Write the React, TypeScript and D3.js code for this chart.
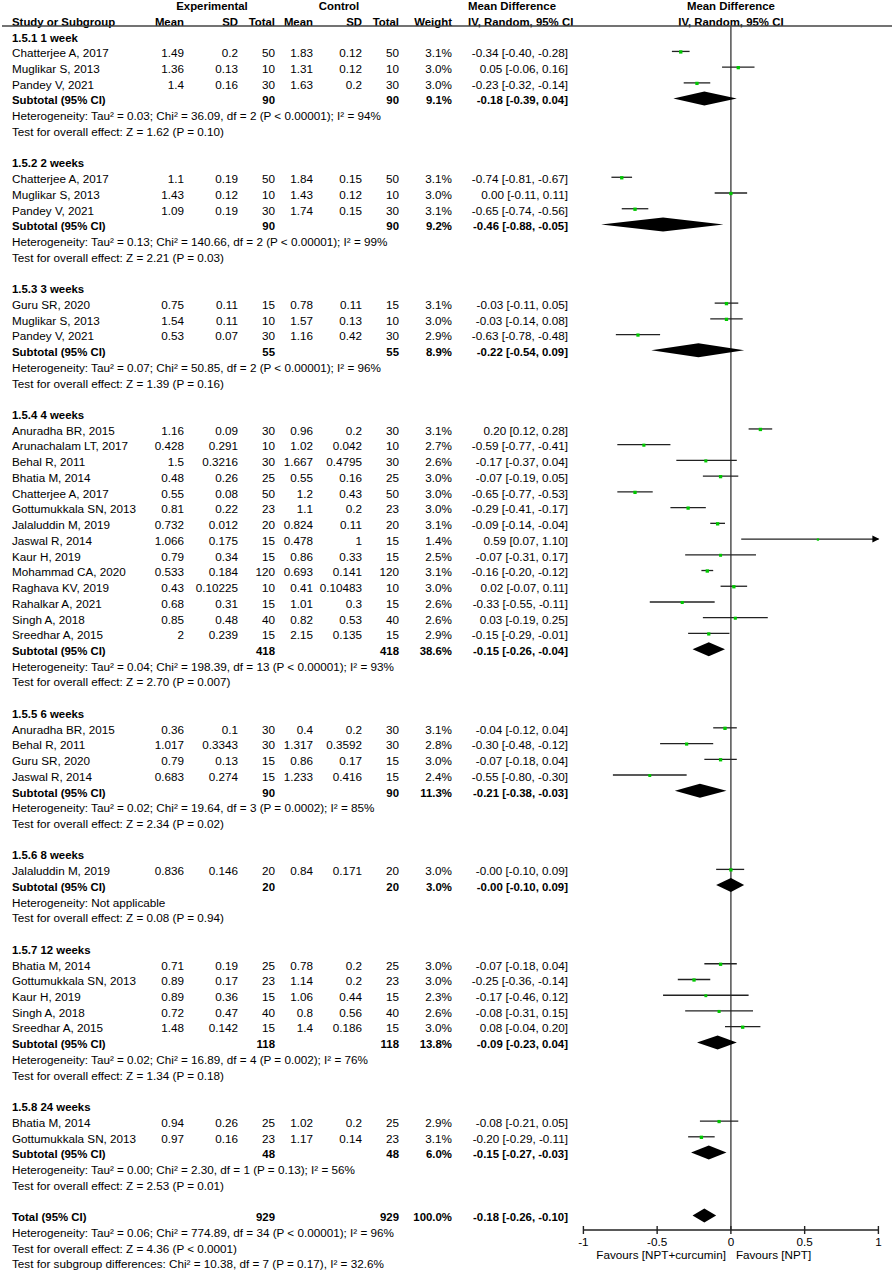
import React from "react";
import * as d3 from "d3";

// ---------- DATA ----------
const groupLabels = [
  "1.5.1 1 week", "1.5.2 2 weeks", "1.5.3 3 weeks", "1.5.4 4 weeks",
  "1.5.5 6 weeks", "1.5.6 8 weeks", "1.5.7 12 weeks", "1.5.8 24 weeks",
];
const studyGroup = [0,0,0, 1,1,1, 2,2,2, 3,3,3,3,3,3,3,3,3,3,3,3,3,3, 4,4,4,4, 5, 6,6,6,6,6, 7,7];
const studyNames = [
  "Chatterjee A, 2017", "Muglikar S, 2013", "Pandey V, 2021",
  "Chatterjee A, 2017", "Muglikar S, 2013", "Pandey V, 2021",
  "Guru SR, 2020", "Muglikar S, 2013", "Pandey V, 2021",
  "Anuradha BR, 2015", "Arunachalam LT, 2017", "Behal R, 2011", "Bhatia M, 2014",
  "Chatterjee A, 2017", "Gottumukkala SN, 2013", "Jalaluddin M, 2019", "Jaswal R, 2014",
  "Kaur H, 2019", "Mohammad CA, 2020", "Raghava KV, 2019", "Rahalkar A, 2021",
  "Singh A, 2018", "Sreedhar A, 2015",
  "Anuradha BR, 2015", "Behal R, 2011", "Guru SR, 2020", "Jaswal R, 2014",
  "Jalaluddin M, 2019",
  "Bhatia M, 2014", "Gottumukkala SN, 2013", "Kaur H, 2019", "Singh A, 2018", "Sreedhar A, 2015",
  "Bhatia M, 2014", "Gottumukkala SN, 2013",
];
const expMean = [1.49,1.36,1.4, 1.1,1.43,1.09, 0.75,1.54,0.53,
  1.16,0.428,1.5,0.48,0.55,0.81,0.732,1.066,0.79,0.533,0.43,0.68,0.85,2,
  0.36,1.017,0.79,0.683, 0.836, 0.71,0.89,0.89,0.72,1.48, 0.94,0.97];
const expSD = [0.2,0.13,0.16, 0.19,0.12,0.19, 0.11,0.11,0.07,
  0.09,0.291,0.3216,0.26,0.08,0.22,0.012,0.175,0.34,0.184,0.10225,0.31,0.48,0.239,
  0.1,0.3343,0.13,0.274, 0.146, 0.19,0.17,0.36,0.47,0.142, 0.26,0.16];
const expN = [50,10,30, 50,10,30, 15,10,30,
  30,10,30,25,50,23,20,15,15,120,10,15,40,15,
  30,30,15,15, 20, 25,23,15,40,15, 25,23];
const ctlMean = [1.83,1.31,1.63, 1.84,1.43,1.74, 0.78,1.57,1.16,
  0.96,1.02,1.667,0.55,1.2,1.1,0.824,0.478,0.86,0.693,0.41,1.01,0.82,2.15,
  0.4,1.317,0.86,1.233, 0.84, 0.78,1.14,1.06,0.8,1.4, 1.02,1.17];
const ctlSD = [0.12,0.12,0.2, 0.15,0.12,0.15, 0.11,0.13,0.42,
  0.2,0.042,0.4795,0.16,0.43,0.2,0.11,1,0.33,0.141,0.10483,0.3,0.53,0.135,
  0.2,0.3592,0.17,0.416, 0.171, 0.2,0.2,0.44,0.56,0.186, 0.2,0.14];
const ctlN = expN;
const weights = [3.1,3.0,3.0, 3.1,3.0,3.1, 3.1,3.0,2.9,
  3.1,2.7,2.6,3.0,3.0,3.0,3.1,1.4,2.5,3.1,3.0,2.6,2.6,2.9,
  3.1,2.8,3.0,2.4, 3.0, 3.0,3.0,2.3,2.6,3.0, 2.9,3.1];
const md = [-0.34,0.05,-0.23, -0.74,0.00,-0.65, -0.03,-0.03,-0.63,
  0.20,-0.59,-0.17,-0.07,-0.65,-0.29,-0.09,0.59,-0.07,-0.16,0.02,-0.33,0.03,-0.15,
  -0.04,-0.30,-0.07,-0.55, -0.0, -0.07,-0.25,-0.17,-0.08,0.08, -0.08,-0.20];
const ciLo = [-0.40,-0.06,-0.32, -0.81,-0.11,-0.74, -0.11,-0.14,-0.78,
  0.12,-0.77,-0.37,-0.19,-0.77,-0.41,-0.14,0.07,-0.31,-0.20,-0.07,-0.55,-0.19,-0.29,
  -0.12,-0.48,-0.18,-0.80, -0.10, -0.18,-0.36,-0.46,-0.31,-0.04, -0.21,-0.29];
const ciHi = [-0.28,0.16,-0.14, -0.67,0.11,-0.56, 0.05,0.08,-0.48,
  0.28,-0.41,0.04,0.05,-0.53,-0.17,-0.04,1.10,0.17,-0.12,0.11,-0.11,0.25,-0.01,
  0.04,-0.12,0.04,-0.30, 0.09, 0.04,-0.14,0.12,0.15,0.20, 0.05,-0.11];

const subN = [90, 90, 55, 418, 90, 20, 118, 48];
const subWeight = ["9.1%", "9.2%", "8.9%", "38.6%", "11.3%", "3.0%", "13.8%", "6.0%"];
const subMd = [-0.18, -0.46, -0.22, -0.15, -0.21, -0.0, -0.09, -0.15];
const subLo = [-0.39, -0.88, -0.54, -0.26, -0.38, -0.10, -0.23, -0.27];
const subHi = [0.04, -0.05, 0.09, -0.04, -0.03, 0.09, 0.04, -0.03];
const hetText = [
  "Heterogeneity: Tau² = 0.03; Chi² = 36.09, df = 2 (P < 0.00001); I² = 94%",
  "Heterogeneity: Tau² = 0.13; Chi² = 140.66, df = 2 (P < 0.00001); I² = 99%",
  "Heterogeneity: Tau² = 0.07; Chi² = 50.85, df = 2 (P < 0.00001); I² = 96%",
  "Heterogeneity: Tau² = 0.04; Chi² = 198.39, df = 13 (P < 0.00001); I² = 93%",
  "Heterogeneity: Tau² = 0.02; Chi² = 19.64, df = 3 (P = 0.0002); I² = 85%",
  "Heterogeneity: Not applicable",
  "Heterogeneity: Tau² = 0.02; Chi² = 16.89, df = 4 (P = 0.002); I² = 76%",
  "Heterogeneity: Tau² = 0.00; Chi² = 2.30, df = 1 (P = 0.13); I² = 56%",
];
const testText = [
  "Test for overall effect: Z = 1.62 (P = 0.10)",
  "Test for overall effect: Z = 2.21 (P = 0.03)",
  "Test for overall effect: Z = 1.39 (P = 0.16)",
  "Test for overall effect: Z = 2.70 (P = 0.007)",
  "Test for overall effect: Z = 2.34 (P = 0.02)",
  "Test for overall effect: Z = 0.08 (P = 0.94)",
  "Test for overall effect: Z = 1.34 (P = 0.18)",
  "Test for overall effect: Z = 2.53 (P = 0.01)",
];
const totalN = 929;
const totalWeight = "100.0%";
const totalMd = -0.18, totalLo = -0.26, totalHi = -0.10;
const totalLines = [
  "Heterogeneity: Tau² = 0.06; Chi² = 774.89, df = 34 (P < 0.00001); I² = 96%",
  "Test for overall effect: Z = 4.36 (P < 0.0001)",
  "Test for subgroup differences: Chi² = 10.38, df = 7 (P = 0.17), I² = 32.6%",
];
const axisTicks = [-1, -0.5, 0, 0.5, 1];
const tickLabels = ["-1", "-0.5", "0", "0.5", "1"];
const favoursLeft = "Favours [NPT+curcumin]";
const favoursRight = "Favours [NPT]";

// ---------- LAYOUT ----------
const W = 892, H = 1271;
const FONT = "'Liberation Sans', Arial, Helvetica, sans-serif";
const FS = 11.7;
const rowY = (i: number) => 37 + 15.73 * i;
const x = d3.scaleLinear().domain([-1, 1]).range([583.4, 878.4]);
const axisY = 1230;
const colX = { expMean: 184, expSD: 238, expN: 275, ctlMean: 313, ctlSD: 362, ctlN: 399, weight: 452, md: 568 };

const fmt2 = (v: number) => (v < 0 || Object.is(v, -0) ? "-" : "") + Math.abs(v).toFixed(2);
const ciStr = (m: number, l: number, h: number) => `${fmt2(m)} [${fmt2(l)}, ${fmt2(h)}]`;

type Row =
  | { kind: "group"; i: number; g: number }
  | { kind: "study"; i: number; s: number }
  | { kind: "sub"; i: number; g: number }
  | { kind: "het"; i: number; g: number }
  | { kind: "test"; i: number; g: number };

function buildRows() {
  const rows: Row[] = [];
  let i = 0;
  groupLabels.forEach((_, g) => {
    rows.push({ kind: "group", i: i++, g });
    studyNames.forEach((_, s) => {
      if (studyGroup[s] === g) rows.push({ kind: "study", i: i++, s });
    });
    rows.push({ kind: "sub", i: i++, g });
    rows.push({ kind: "het", i: i++, g });
    rows.push({ kind: "test", i: i++, g });
    i++;
  });
  return { rows, totalIndex: i };
}

function Diamond({ lo, m, hi, y }: { lo: number; m: number; hi: number; y: number }) {
  const h = 7;
  const p = [[x(lo), y], [x(m), y - h], [x(hi), y], [x(m), y + h]];
  return <polygon points={p.map((q) => q.join(",")).join(" ")} fill="#000" />;
}

export default function App() {
  const { rows, totalIndex } = buildRows();
  const T = (props: any) => (
    <text fontFamily={FONT} fontSize={FS} fill="#000" {...props} />
  );
  const B = (props: any) => (
    <text fontFamily={FONT} fontSize={FS - 0.3} fontWeight="bold" fill="#000" {...props} />
  );
  const els: React.ReactNode[] = [];
  rows.forEach((r, k) => {
    const c = rowY(r.i);
    const by = c + 4.5;
    const my = c - 1.3;
    if (r.kind === "group") {
      els.push(<B key={k} x={12} y={by}>{groupLabels[r.g]}</B>);
    } else if (r.kind === "study") {
      const s = r.s;
      els.push(
        <g key={k}>
          <T x={12} y={by}>{studyNames[s]}</T>
          <T x={colX.expMean} y={by} textAnchor="end">{String(expMean[s])}</T>
          <T x={colX.expSD} y={by} textAnchor="end">{String(expSD[s])}</T>
          <T x={colX.expN} y={by} textAnchor="end">{String(expN[s])}</T>
          <T x={colX.ctlMean} y={by} textAnchor="end">{String(ctlMean[s])}</T>
          <T x={colX.ctlSD} y={by} textAnchor="end">{String(ctlSD[s])}</T>
          <T x={colX.ctlN} y={by} textAnchor="end">{String(ctlN[s])}</T>
          <T x={colX.weight} y={by} textAnchor="end">{weights[s].toFixed(1) + "%"}</T>
          <T x={colX.md} y={by} textAnchor="end">{ciStr(md[s], ciLo[s], ciHi[s])}</T>
        </g>
      );
      const lo = Math.max(ciLo[s], -1), hi = Math.min(ciHi[s], 1);
      const side = 1.9 * Math.sqrt(weights[s]);
      els.push(
        <g key={"m" + k}>
          <line x1={x(lo)} x2={x(hi)} y1={my} y2={my} stroke="#222" strokeWidth={1.3} />
          {ciHi[s] > 1 && (
            <polygon
              points={`${x(1) - 6},${my - 3.5} ${x(1) + 1},${my} ${x(1) - 6},${my + 3.5}`}
              fill="#000"
            />
          )}
          <rect x={x(md[s]) - side / 2} y={my - side / 2 + 0.5} width={side} height={side} fill="#00c800" />
        </g>
      );
    } else if (r.kind === "sub") {
      const g = r.g;
      els.push(
        <g key={k}>
          <B x={12} y={by}>Subtotal (95% CI)</B>
          <B x={colX.expN} y={by} textAnchor="end">{subN[g]}</B>
          <B x={colX.ctlN} y={by} textAnchor="end">{subN[g]}</B>
          <B x={colX.weight} y={by} textAnchor="end">{subWeight[g]}</B>
          <B x={colX.md} y={by} textAnchor="end">{ciStr(subMd[g], subLo[g], subHi[g])}</B>
          <Diamond lo={subLo[g]} m={subMd[g]} hi={subHi[g]} y={my} />
        </g>
      );
    } else if (r.kind === "het") {
      els.push(<T key={k} x={12} y={by}>{hetText[r.g]}</T>);
    } else {
      els.push(<T key={k} x={12} y={by}>{testText[r.g]}</T>);
    }
  });

  const tc = rowY(totalIndex);
  const zx = x(0);

  return (
    <div style={{ position: "absolute", left: 0, top: 0 }}>
      <svg width={W} height={H} viewBox={`0 0 ${W} ${H}`} style={{ display: "block", background: "#fff" }}>
        <rect width={W} height={H} fill="#fff" />
        {/* header */}
        <B x={212} y={9.5} textAnchor="middle">Experimental</B>
        <B x={339} y={9.5} textAnchor="middle">Control</B>
        <B x={468} y={9.5}>Mean Difference</B>
        <B x={zx} y={9.5} textAnchor="middle">Mean Difference</B>
        <B x={12} y={25.5}>Study or Subgroup</B>
        <B x={colX.expMean} y={25.5} textAnchor="end">Mean</B>
        <B x={colX.expSD} y={25.5} textAnchor="end">SD</B>
        <B x={colX.expN} y={25.5} textAnchor="end">Total</B>
        <B x={colX.ctlMean} y={25.5} textAnchor="end">Mean</B>
        <B x={colX.ctlSD} y={25.5} textAnchor="end">SD</B>
        <B x={colX.ctlN} y={25.5} textAnchor="end">Total</B>
        <B x={colX.weight} y={25.5} textAnchor="end">Weight</B>
        <B x={468} y={25.5}>IV, Random, 95% CI</B>
        <B x={zx} y={25.5} textAnchor="middle">IV, Random, 95% CI</B>
        <line x1={2} x2={W} y1={26} y2={26} stroke="#444" strokeWidth={1.3} />
        {/* zero line */}
        <line x1={zx} x2={zx} y1={26} y2={axisY} stroke="#444" strokeWidth={1.4} />
        {els}
        {/* total */}
        <B x={12} y={tc + 4.5}>Total (95% CI)</B>
        <B x={colX.expN} y={tc + 4.5} textAnchor="end">{totalN}</B>
        <B x={colX.ctlN} y={tc + 4.5} textAnchor="end">{totalN}</B>
        <B x={colX.weight} y={tc + 4.5} textAnchor="end">{totalWeight}</B>
        <B x={colX.md} y={tc + 4.5} textAnchor="end">{ciStr(totalMd, totalLo, totalHi)}</B>
        <Diamond lo={totalLo} m={totalMd} hi={totalHi} y={tc - 1.3} />
        {totalLines.map((t, j) => (
          <T key={"tl" + j} x={12} y={rowY(totalIndex + 1 + j) + 4.5}>{t}</T>
        ))}
        {/* axis */}
        <line x1={x(-1)} x2={x(1)} y1={axisY} y2={axisY} stroke="#222" strokeWidth={1.4} />
        {axisTicks.map((t, j) => (
          <g key={"t" + j}>
            <line x1={x(t)} x2={x(t)} y1={axisY - 4} y2={axisY + 4} stroke="#222" strokeWidth={1.4} />
            <T x={x(t)} y={axisY + 16} textAnchor="middle">{tickLabels[j]}</T>
          </g>
        ))}
        <T x={zx - 5} y={axisY + 29} textAnchor="end">{favoursLeft}</T>
        <T x={zx + 5} y={axisY + 29}>{favoursRight}</T>
      </svg>
    </div>
  );
}
